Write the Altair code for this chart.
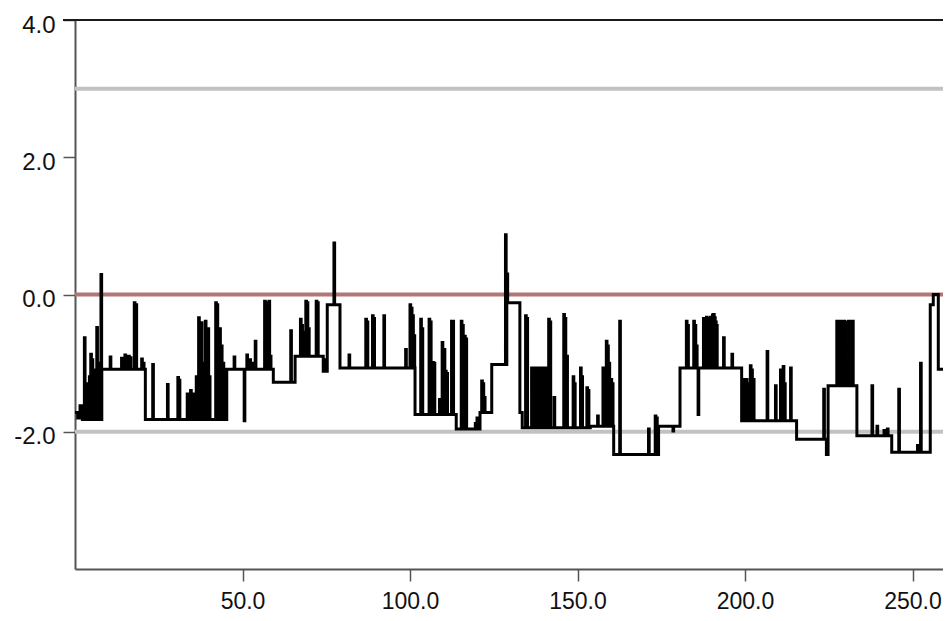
import altair as alt
import pandas as pd

# --- values -------------------------------------------------------------
# baseline levels of the step profile: start position and level
step_x = [0.0, 0.8, 1.5, 2.2, 8.0, 21.0, 45.3, 59.2, 65.7, 74.1, 75.3, 79.1,
          101.5, 113.8, 120.9, 124.4, 128.9, 132.8, 133.5, 153.8, 160.8,
          174.2, 180.6, 199.0, 215.4, 224.3, 224.8, 233.4, 243.8, 255.3,
          256.2, 257.7, 261.5]
step_y = [-1.72, -1.80, -1.62, -1.82, -1.09, -1.82, -1.09, -1.28, -0.90, -1.12,
          -0.15, -1.07, -1.75, -1.96, -1.72, -1.02, -0.12, -1.72, -1.94, -1.92,
          -2.33, -1.92, -1.07, -1.84, -2.11, -2.33, -1.33, -2.06, -2.30, -0.15,
          0.00, -1.09, -1.09]

# narrow spikes: position and peak value
spike_x = [2.8, 3.3, 3.8, 4.3, 4.7, 5.1, 5.6, 6.0, 6.5, 6.9, 7.3, 7.75,
           10.5, 13.9, 14.4, 14.9, 15.4, 16.0, 16.5, 17.7, 18.2, 19.9, 20.4,
           23.2, 27.6, 30.7, 31.1, 33.5, 34.0, 34.5, 35.0, 35.5, 36.2, 36.9,
           37.3, 37.7, 38.1, 38.9, 39.3, 39.7, 40.1, 42.0, 42.4, 42.8, 43.2,
           43.7, 44.2,
           47.5, 50.5, 51.3, 52.2, 53.0, 53.8, 56.6, 57.0, 57.9, 58.3,
           64.4, 67.3, 67.7, 68.1, 68.9, 69.3, 69.7, 72.0, 72.4, 74.4, 74.8,
           77.3, 81.8, 86.8, 87.2, 88.8, 89.2, 92.2, 98.7, 100.0, 100.4, 100.8,
           101.2,
           103.2, 103.6, 105.7, 106.1, 106.8, 107.2, 108.8, 109.6, 110.2, 110.6,
           111.0, 112.4, 112.8, 115.3, 115.7, 116.3, 116.7, 119.5, 120.0,
           121.4, 121.8, 122.2, 128.5, 128.95,
           134.5, 134.9, 136.3, 136.6, 136.9, 137.2, 137.5, 137.8, 138.1, 138.4,
           138.7, 139.0, 139.3, 139.6, 139.9, 140.2, 140.5, 140.8,
           141.4, 141.8, 143.0, 145.9, 146.3, 146.8, 148.7, 149.1, 150.9, 151.3,
           152.8, 153.2, 156.0, 157.6, 158.0, 158.6, 159.0, 159.4, 160.0, 160.4,
           162.6, 171.2, 173.2, 173.6, 178.5,
           182.5, 182.9, 184.7, 185.1, 185.5, 186.0,
           187.6, 187.9, 188.2, 188.5, 188.8, 189.1, 189.4, 189.7, 190.0, 190.3,
           190.6, 190.9, 191.2, 191.5, 193.6, 196.1,
           199.6, 200.0, 200.4, 200.8, 201.6, 202.0, 202.5, 206.6, 209.1, 210.6,
           211.0, 211.4, 211.8, 213.6, 223.5,
           227.4, 227.7, 228.0, 228.3, 228.6, 228.9, 229.2, 229.5, 229.8,
           230.9, 231.2, 231.5, 231.8, 232.1,
           237.9, 239.4, 241.5, 242.5, 245.9, 251.5, 252.4]
spike_y = [-0.63, -1.30, -1.45, -1.20, -0.87, -0.95, -1.25, -1.10, -0.48, -1.00, -1.40, 0.29,
           -0.91, -0.93, -1.00, -0.88, -0.95, -0.90, -0.92, -0.12, -0.15, -0.94, -1.00,
           -1.02, -1.31, -1.21, -1.25, -1.45, -1.55, -1.40, -1.50, -1.45, -1.20, -0.34,
           -0.55, -0.41, -1.00, -0.39, -0.70, -0.50, -1.20, -0.12, -0.15, -0.90, -0.50,
           -0.75, -1.00,
           -0.91, -1.84, -0.88, -0.95, -1.00, -0.68, -0.10, -0.12, -0.10, -0.90,
           -0.53, -0.36, -0.45, -0.55, -0.10, -0.12, -0.50, -0.10, -0.12, -0.95, -0.95,
           0.75, -0.88, -0.36, -0.40, -0.31, -0.35, -0.31, -0.80, -0.15, -0.20, -0.31,
           -0.60,
           -0.36, -0.50, -0.36, -0.40, -0.99, -1.00, -1.53, -0.70, -0.80, -1.12,
           -1.15, -0.39, -0.39, -0.39, -0.45, -0.61, -0.65, -1.88, -1.80,
           -1.26, -1.30, -1.50, 0.87, 0.30,
           -0.31, -0.35, -1.07, -1.10, -1.07, -1.12, -1.07, -1.10, -1.07, -1.10,
           -1.07, -1.12, -1.07, -1.10, -1.07, -1.10, -1.07, -1.10,
           -0.36, -0.40, -1.50, -0.29, -0.35, -0.90, -1.20, -1.30, -1.07, -1.20,
           -1.36, -1.40, -1.77, -1.07, -1.30, -0.68, -0.75, -1.00, -1.24, -1.30,
           -0.39, -1.96, -1.77, -1.80, -1.99,
           -0.39, -0.45, -0.39, -0.45, -0.75, -1.75,
           -0.35, -0.38, -0.35, -0.33, -0.36, -0.35, -0.38, -0.33, -0.35, -0.30,
           -0.29, -0.34, -0.40, -0.45, -0.63, -0.87,
           -1.24, -1.30, -1.24, -1.30, -1.04, -1.10, -1.24, -0.83, -1.33, -1.10,
           -1.20, -1.05, -1.30, -1.07, -1.38,
           -0.39, -0.39, -0.40, -0.39, -0.39, -0.40, -0.39, -0.39, -0.40,
           -0.39, -0.39, -0.40, -0.39, -0.39,
           -1.33, -1.92, -1.98, -1.96, -1.38, -2.20, -1.00]

ref_values = [3.0, 0.0, -2.0]
ref_colors = ["#c2c2c2", "#b27676", "#c2c2c2"]

x_ticks = [50, 100, 150, 200, 250]
y_ticks = [-2, 0, 2, 4]

SPIKE_W = 0.2  # drawing width of a spike (x units)


def base_at(x):
    lvl = step_y[0]
    for sx, sy in zip(step_x, step_y):
        if sx <= x:
            lvl = sy
        else:
            break
    return lvl


rows = [(x, y, 0) for x, y in zip(step_x, step_y)]
for x, p in zip(spike_x, spike_y):
    rows.append((x, p, 1))
    rows.append((x + SPIKE_W, base_at(x + SPIKE_W), 2))
rows.sort(key=lambda r: (r[0], r[2]))
df = pd.DataFrame(rows, columns=["x", "y", "k"])
df["i"] = range(len(df))

refs = pd.DataFrame({"v": ref_values, "c": ref_colors})

FONT = "Liberation Sans"
label_expr = "replace(format(datum.value, '.1f'), '\u2212', '-')"

PLOT_W = 868
X_MAX = PLOT_W / 3.35
xscale = alt.Scale(domain=[0, X_MAX], nice=False, zero=False)
yscale = alt.Scale(domain=[-4, 4], nice=False, zero=False)

axis_common = dict(grid=False, domainColor="#555555", domainWidth=2,
                   tickColor="#555555", tickWidth=1.5, tickSize=12,
                   labelFont=FONT, labelColor="#111111", title=None)

ref_rules = alt.Chart(refs).mark_rule(strokeWidth=4).encode(
    y=alt.Y("v:Q", scale=yscale),
    color=alt.Color("c:N", scale=None),
)

top_rule = alt.Chart(refs).mark_rule(color="#1a1a1a", strokeWidth=2).encode(
    x=alt.value(-12), x2=alt.value(PLOT_W), y=alt.datum(4)
)

line = alt.Chart(df).mark_line(
    color="black", strokeWidth=3, interpolate="step-after", clip=True
).encode(
    x=alt.X("x:Q", scale=xscale,
            axis=alt.Axis(values=x_ticks, labelExpr=label_expr, labelPadding=9,
                          labelFontSize=23, **axis_common)),
    y=alt.Y("y:Q", scale=yscale,
            axis=alt.Axis(values=y_ticks, labelExpr=label_expr, labelPadding=8,
                          labelOffset=5, labelFontSize=24, **axis_common)),
    order="i:Q",
)

chart = alt.layer(ref_rules, line, top_rule).properties(
    width=PLOT_W, height=549,
    autosize=alt.AutoSizeParams(type="none"),
    padding={"left": 67, "top": 12, "right": 0, "bottom": 44},
    background="white",
).configure_view(strokeWidth=0)

chart.save("out.html", embed_options={"renderer": "svg", "actions": False})
